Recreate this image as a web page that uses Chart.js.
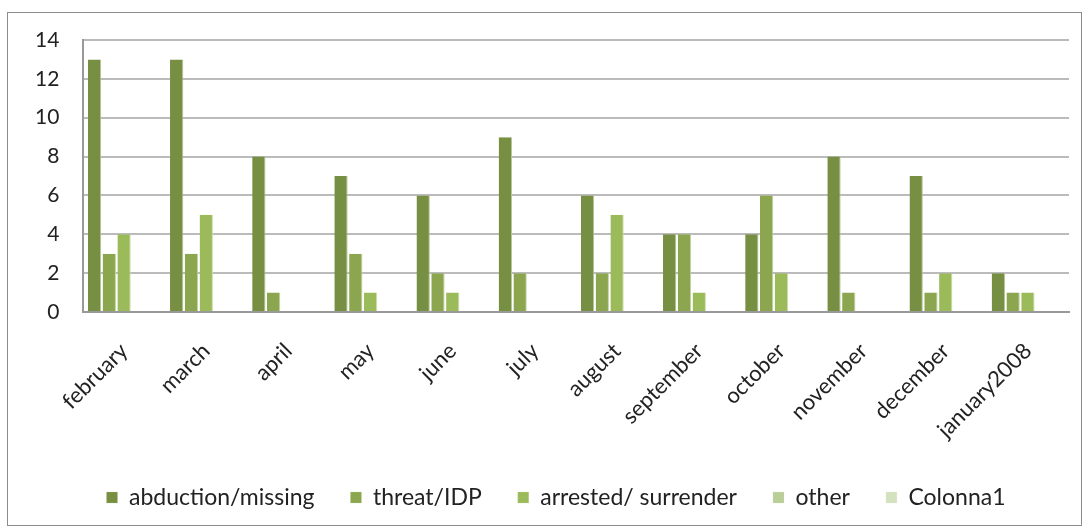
<!DOCTYPE html>
<html>
<head>
<meta charset="utf-8">
<script src="https://cdn.jsdelivr.net/npm/chart.js@4/dist/chart.umd.min.js"></script>
<style>
    html, body { margin: 0; padding: 0; background: #fff; }
    #wrap { position: relative; width: 1088px; height: 527px; }
    #frame { position: absolute; left: 7px; top: 12px; width: 1075px; height: 514px; border: 1px solid #8c8c8c; box-sizing: border-box; }
    canvas { position: absolute; left: 0; top: 0; }
</style>
</head>
<body>
<div id="wrap">
    <div id="frame"></div>
    <canvas id="chart" width="1088" height="527"></canvas>
</div>
<script>
// === DATA ===
const months = ["february", "march", "april", "may", "june", "july", "august",
    "september", "october", "november", "december", "january2008"];
const abduction = [13, 13, 8, 7, 6, 9, 6, 4, 4, 8, 7, 2];
const threat = [3, 3, 1, 3, 2, 2, 2, 4, 6, 1, 1, 1];
const arrested = [4, 5, 0, 1, 1, 0, 5, 1, 2, 0, 2, 1];
const other = [0, 0, 0, 0, 0, 0, 0, 0, 0, 0, 0, 0];
const colonna1 = [0, 0, 0, 0, 0, 0, 0, 0, 0, 0, 0, 0];
const yTicks = [0, 2, 4, 6, 8, 10, 12, 14];

const font = "Lato, 'Open Sans', sans-serif";

function series(label, data, color, edge) {
    return {
        label: label,
        data: data,
        backgroundColor: color,
        borderColor: edge,
        borderWidth: { top: 0, left: 0, bottom: 0, right: 1 },
        borderSkipped: false,
        categoryPercentage: 0.9,
        barPercentage: 0.9
    };
}

new Chart(document.getElementById("chart"), {
    type: "bar",
    data: {
        labels: months,
        datasets: [
            series("abduction/missing", abduction, "#778f42", "#b5c596"),
            series("threat/IDP", threat, "#8ba64f", "#c2d2a2"),
            series("arrested/ surrender", arrested, "#9bba59", "#cbdcaa"),
            series("other", other, "#b9cf98", "#d8e4c4"),
            series("Colonna1", colonna1, "#d3e1bf", "#e6eedb")
        ]
    },
    options: {
        responsive: false,
        animation: false,
        layout: { padding: { left: 43, right: 19, top: 40, bottom: 8 } },
        plugins: {
            tooltip: { enabled: false },
            legend: {
                position: "bottom",
                labels: {
                    font: { family: font, size: 23 },
                    color: "#222",
                    boxWidth: 11,
                    boxHeight: 11,
                    padding: 36
                }
            }
        },
        scales: {
            x: {
                grid: { display: false, drawTicks: false },
                border: { color: "#999", width: 2 },
                ticks: {
                    font: { family: font, size: 22 },
                    color: "#222",
                    minRotation: 45,
                    maxRotation: 45,
                    padding: 26
                },
                afterFit: s => { s.height = 138; }
            },
            y: {
                min: 0,
                max: 14,
                afterBuildTicks: s => { s.ticks = yTicks.map(v => ({ value: v })); },
                grid: { color: "#bbbbbb", lineWidth: 2, drawTicks: false },
                border: { color: "#999", width: 2 },
                ticks: {
                    font: { family: font, size: 21 },
                    color: "#222",
                    mirror: true,
                    crossAlign: "far",
                    padding: -48
                },
                afterFit: s => { s.width = 40; }
            }
        }
    }
});
</script>
</body>
</html>
